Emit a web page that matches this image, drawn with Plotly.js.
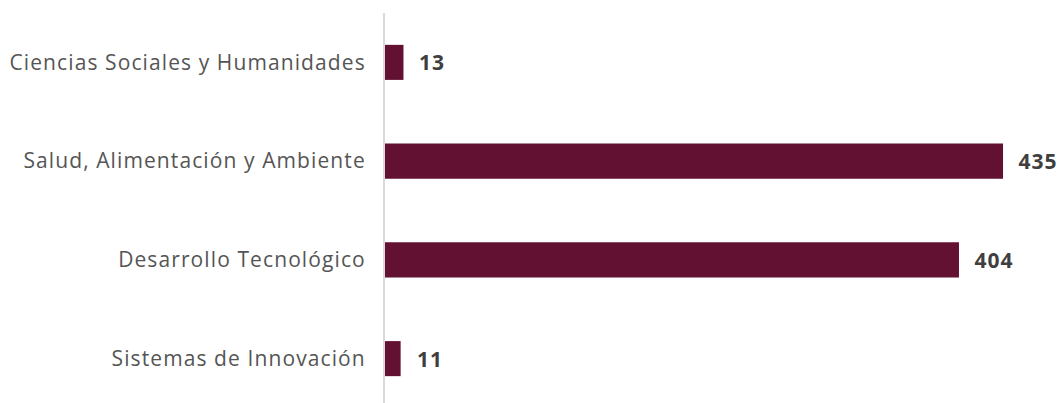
<!DOCTYPE html>
<html>
<head>
<meta charset="utf-8">
<script src="https://cdn.plot.ly/plotly-3.0.1.min.js"></script>
<style>
html,body{margin:0;padding:0;background:#fff;overflow:hidden;}
#chart{width:1061px;height:408px;}
#chart .ytick text{letter-spacing:1.1px;}
#chart .annotation-text{letter-spacing:1px;}
</style>
</head>
<body>
<div id="chart"></div>
<script>
const categories = ["Ciencias Sociales y Humanidades", "Salud, Alimentación y Ambiente", "Desarrollo Tecnológico", "Sistemas de Innovación"];
const values = [13, 435, 404, 11];
const valueLabels = ["13", "435", "404", "11"];

const barColor = "#621132";
const fontFamily = "'Open Sans', 'Noto Sans', sans-serif";

const trace = {
  type: "bar",
  orientation: "h",
  x: values,
  y: categories,
  marker: {color: barColor},
  hoverinfo: "none"
};

const annotations = categories.map((c, i) => ({
  x: values[i],
  y: c,
  xref: "x",
  yref: "y",
  text: "<b>" + valueLabels[i] + "</b>",
  showarrow: false,
  xanchor: "left",
  yanchor: "middle",
  xshift: 15,
  font: {family: fontFamily, size: 21, color: "#3f3f3f"}
}));

const layout = {
  width: 1061,
  height: 408,
  margin: {l: 385, r: 0, t: 13, b: 0, pad: 0},
  paper_bgcolor: "#fff",
  plot_bgcolor: "#fff",
  showlegend: false,
  bargap: 0.645,
  xaxis: {
    range: [0, 475.8],
    showgrid: false,
    zeroline: false,
    showticklabels: false,
    showline: false,
    fixedrange: true
  },
  yaxis: {
    autorange: "reversed",
    showgrid: false,
    zeroline: false,
    showline: true,
    linecolor: "#d9d9d9",
    linewidth: 2,
    ticks: "",
    ticklabelstandoff: 13,
    tickfont: {family: fontFamily, size: 21, color: "#555555"},
    fixedrange: true
  },
  annotations: annotations
};

Plotly.newPlot("chart", [trace], layout, {displayModeBar: false, staticPlot: true});
</script>
</body>
</html>
